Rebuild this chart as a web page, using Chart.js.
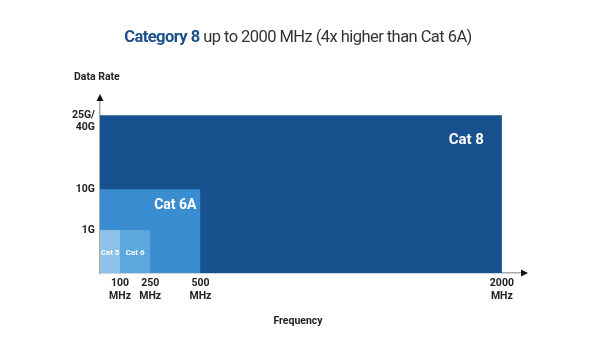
<!DOCTYPE html>
<html>
<head>
<meta charset="utf-8">
<script src="https://cdn.jsdelivr.net/npm/chart.js@4.4.1/dist/chart.umd.min.js"></script>
<style>
  html, body { margin: 0; padding: 0; background: #fff; }
  #wrap { position: relative; width: 600px; height: 338px; }
  #title {
    position: absolute; left: 0; top: 26px; width: 596px;
    text-align: center; font-family: Roboto, sans-serif; font-size: 16.5px;
    line-height: 22px; color: #333; letter-spacing: -0.55px;
  }
  #title b { color: #1b4f8c; font-weight: 700; }
</style>
</head>
<body>
<div id="wrap">
  <div id="title"><b>Category 8</b> up to 2000 MHz (4x higher than Cat 6A)</div>
  <canvas id="chart" width="600" height="338"></canvas>
</div>
<script>
// cable categories, front to back
const categories = ['Cat 5', 'Cat 6', 'Cat 6A', 'Cat 8']
const frequencies = [100, 250, 500, 2000]        // MHz
const rateLevels = [1, 1, 1.95, 3.67]            // position on the (schematic) data rate axis
const rateTicks = [1, 1.95, 3.67]
const rateTickLabels = ['1G', '10G', ['25G/', '40G']]
const freqTicks = [100, 250, 500, 2000]

const boxColors = ['#8dc1ea', '#5da7df', '#3b8dd2', '#17528f']
const fontFam = 'Roboto, sans-serif'

const datasets = categories.map((name, i) => ({
  label: name,
  data: [{ x: 0, y: rateLevels[i] }, { x: frequencies[i], y: rateLevels[i] }],
  borderWidth: 0,
  borderColor: boxColors[i],
  backgroundColor: boxColors[i],
  pointRadius: 0,
  fill: 'origin',
}))

// text inside the boxes
const boxLabelStyle = [
  { size: 8, align: 'center', dy: 23 },
  { size: 8, align: 'center', dy: 23 },
  { size: 14, align: 'right', dx: -4, dy: 16 },
  { size: 15, align: 'right', dx: -18, dy: 25 },
]

const boxLabelsPlugin = {
  id: 'boxLabels',
  afterDatasetsDraw(chart) {
    const { ctx, scales: { x, y } } = chart
    ctx.save()
    ctx.fillStyle = '#fff'
    ctx.textBaseline = 'middle'
    categories.forEach((name, i) => {
      const st = boxLabelStyle[i]
      const right = x.getPixelForValue(frequencies[i])
      const top = y.getPixelForValue(rateLevels[i])
      ctx.font = `bold ${st.size}px ${fontFam}`
      if (st.align === 'center') {
        const left = i > 0 && rateLevels[i - 1] === rateLevels[i]
          ? x.getPixelForValue(frequencies[i - 1]) : x.getPixelForValue(0)
        ctx.textAlign = 'center'
        ctx.fillText(name, (left + right) / 2, top + st.dy)
      } else {
        ctx.textAlign = 'right'
        ctx.fillText(name, right + st.dx, top + st.dy)
      }
    })
    ctx.restore()
  }
}

const axisDecorPlugin = {
  id: 'axisDecor',
  afterDraw(chart) {
    const { ctx, chartArea: a } = chart
    ctx.save()
    ctx.fillStyle = '#111'
    // arrow heads
    ctx.beginPath()
    ctx.moveTo(a.left, a.top - 4)
    ctx.lineTo(a.left - 3.5, a.top + 3)
    ctx.lineTo(a.left + 3.5, a.top + 3)
    ctx.closePath()
    ctx.fill()
    ctx.beginPath()
    ctx.moveTo(a.right + 4, a.bottom)
    ctx.lineTo(a.right - 3, a.bottom - 3.5)
    ctx.lineTo(a.right - 3, a.bottom + 3.5)
    ctx.closePath()
    ctx.fill()
    // axis names
    ctx.fillStyle = '#222'
    ctx.font = `bold 10.5px ${fontFam}`
    ctx.textBaseline = 'middle'
    ctx.textAlign = 'left'
    ctx.fillText('Data Rate', 74, 77)
    ctx.textAlign = 'center'
    ctx.fillText('Frequency', 298, 321)
    ctx.restore()
  }
}

new Chart(document.getElementById('chart'), {
  type: 'line',
  data: { datasets },
  plugins: [boxLabelsPlugin, axisDecorPlugin],
  options: {
    responsive: false,
    animation: false,
    layout: { padding: { left: 0, top: 98, right: 76, bottom: 0 } },
    plugins: { legend: { display: false }, tooltip: { enabled: false } },
    scales: {
      x: {
        type: 'linear',
        min: 0,
        max: 2110,
        afterBuildTicks: scale => { scale.ticks = freqTicks.map(v => ({ value: v })) },
        afterFit: scale => { scale.height = 65 },
        grid: { display: false, drawTicks: false },
        border: { color: '#aaa', width: 1.5 },
        ticks: {
          padding: 4,
          maxRotation: 0,
          color: '#222',
          font: { family: fontFam, size: 10.5, weight: 'bold', lineHeight: 1.25 },
          callback: v => [String(v), 'MHz'],
        },
      },
      y: {
        min: 0,
        max: 4.07,
        afterBuildTicks: scale => { scale.ticks = rateTicks.map(v => ({ value: v })) },
        afterFit: scale => { scale.width = 100 },
        grid: { display: false, drawTicks: false },
        border: { color: '#aaa', width: 1.5 },
        ticks: {
          padding: 5,
          color: '#222',
          font: { family: fontFam, size: 10.5, weight: 'bold', lineHeight: 1.2 },
          // two-line label hangs below its tick, like the original
          callback: (v, i) => {
            const l = rateTickLabels[i]
            return Array.isArray(l) ? ['', ...l] : l
          },
        },
      },
    },
  },
})
</script>
</body>
</html>
